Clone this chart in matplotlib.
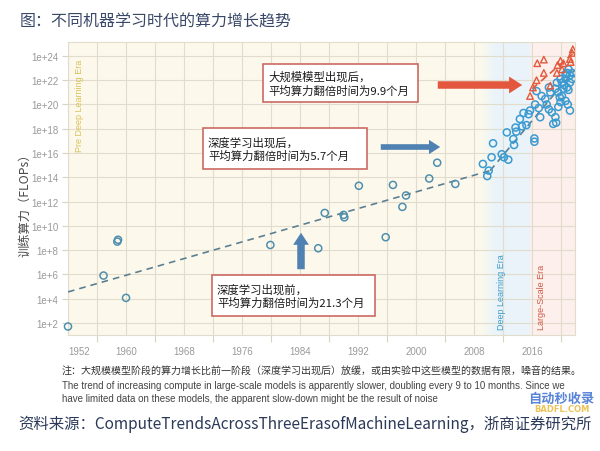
import numpy as np
import matplotlib.pyplot as plt
from matplotlib.patches import Rectangle, FancyArrowPatch

plt.rcParams['font.family'] = ['Noto Sans CJK SC', 'DejaVu Sans']

# ---- data (year, log10 FLOPs) ----
pre_dl_year = [1952.0, 1956.9, 1958.8, 1958.9, 1960.0, 1979.9, 1986.5, 1987.4,
               1990.0, 1990.1, 1992.1, 1995.8, 1996.8, 1998.6, 1998.1, 2001.8,
               2002.9, 2005.4]
pre_dl_log = [1.7, 5.9, 8.7, 8.85, 4.06, 8.42, 8.15, 11.06,
              10.9, 10.7, 13.3, 9.06, 13.37, 12.5, 11.56, 13.9,
              15.2, 13.45]

dl_year = [2009.2, 2010.0, 2009.8, 2010.4, 2010.6, 2011.8, 2012.1, 2012.7,
           2012.5, 2013.4, 2013.5, 2013.7, 2013.8, 2014.3, 2014.6, 2014.8,
           2015.2, 2015.5, 2015.7, 2016.3, 2016.3, 2016.4, 2016.9, 2017.1,
           2016.6, 2017.3, 2017.8, 2018.0, 2018.3, 2018.7, 2019.2, 2019.3,
           2018.9, 2019.6, 2019.9, 2020.1, 2019.6, 2020.3, 2020.1, 2020.6,
           2020.8, 2021.0, 2021.2, 2021.2, 2021.5, 2020.8, 2020.6, 2020.9,
           2021.2, 2019.4, 2019.9, 2019.2, 2018.5, 2020.6, 2021.5, 2018.3,
           2020.4, 2021.0, 2019.8]
dl_log = [15.1, 14.55, 14.1, 15.65, 16.8, 15.9, 15.65, 15.45,
          17.7, 17.15, 16.66, 18.1, 17.76, 18.8, 18.2, 19.3,
          18.3, 19.2, 19.5, 17.2, 16.93, 20.0, 19.7, 18.95,
          21.1, 20.7, 20.45, 20.0, 19.6, 19.35, 18.95, 18.5,
          18.4, 19.8, 20.2, 20.7, 21.0, 21.3, 21.8, 22.1,
          22.6, 22.9, 22.4, 21.8, 22.1, 21.4, 20.3, 20.0,
          19.5, 21.8, 22.1, 21.3, 21.0, 22.5, 22.6, 21.4,
          21.6, 21.2, 20.6]

large_year = [2015.7, 2016.1, 2016.6, 2016.7, 2017.6, 2017.6, 2018.5, 2019.5,
              2019.9, 2020.3, 2021.2, 2021.5, 2021.3, 2019.4, 2020.1, 2021.6]
large_log = [20.7, 21.4, 22.0, 23.4, 23.7, 22.6, 21.55, 23.25,
             23.6, 23.4, 23.75, 24.25, 23.5, 22.6, 22.9, 24.55]

pre_trend_year, pre_trend_log = [1952.0, 2010.2], [4.55, 14.55]
dl_trend_year, dl_trend_log = [2010.2, 2021.8], [14.55, 22.8]
large_trend_year, large_trend_log = [2016.0, 2021.8], [21.3, 24.3]

x_ticks = [1952, 1960, 1968, 1976, 1984, 1992, 2000, 2008, 2016]
y_ticks_log = [2, 4, 6, 8, 10, 12, 14, 16, 18, 20, 22, 24]
y_tick_labels = ['1e+%d' % e for e in y_ticks_log]

title = '图：不同机器学习时代的算力增长趋势'
ylabel = '训练算力（FLOPs）'
note_cn = '注：大规模模型阶段的算力增长比前一阶段（深度学习出现后）放缓，或由实验中这些模型的数据有限，噪音的结果。'
note_en1 = ('The trend of increasing compute in large-scale models is apparently slower, '
            'doubling every 9 to 10 months. Since we')
note_en2 = 'have limited data on these models, the apparent slow-down might be the result of noise'
source = '资料来源：ComputeTrendsAcrossThreeErasofMachineLearning，浙商证券研究所'
box_texts = ['大规模模型出现后，\n平均算力翻倍时间为9.9个月',
             '深度学习出现后，\n平均算力翻倍时间为5.7个月',
             '深度学习出现前，\n平均算力翻倍时间为21.3个月']


def p10(v):
    return np.power(10.0, np.asarray(v, dtype=float))


W, H = 600, 452
fig = plt.figure(figsize=(6, 4.52), dpi=100)
ax = fig.add_axes([68 / W, 1 - 336 / H, 507 / W, 293 / H])
ax.set_yscale('log')
ax.set_xlim(1952, 2021.9)
ax.set_ylim(10 ** 1.0, 10 ** 25.15)


def hexrgb(h):
    return np.array([int(h[i:i + 2], 16) / 255 for i in (1, 3, 5)])


# background eras with soft transitions
cream, blue, pink = hexrgb('#fcf9ec'), hexrgb('#e9f3f9'), hexrgb('#fcefec')
ax.axvspan(1952, 2008.8, color=cream, lw=0, zorder=0)
edges = np.linspace(2008.8, 2011.0, 30)
for a, b in zip(edges[:-1], edges[1:]):
    t = (a - 2008.8) / 2.2
    ax.axvspan(a, b, color=cream * (1 - t) + blue * t, lw=0, zorder=0)
ax.axvspan(2011.0, 2015.4, color=blue, lw=0, zorder=0)
edges = np.linspace(2015.4, 2016.0, 10)
for a, b in zip(edges[:-1], edges[1:]):
    t = (a - 2015.4) / 0.6
    ax.axvspan(a, b, color=blue * (1 - t) + pink * t, lw=0, zorder=0)
ax.axvspan(2016.0, 2022, color=pink, lw=0, zorder=0)

# grid
for yr in range(1952, 2022, 4):
    ax.axvline(yr, color='#e2dccd', lw=0.8, zorder=1)
for e in y_ticks_log:
    ax.axhline(10.0 ** e, color='#e2dccd', lw=0.8, zorder=1)

ax.set_xticks(x_ticks)
ax.set_xticklabels([str(v) for v in x_ticks], family='Liberation Sans',
                   fontsize=7, color='#9a9a9a')
ax.get_xticklabels()[0].set_horizontalalignment('left')
ax.set_xticks(list(range(1956, 2022, 8)), minor=True)
ax.tick_params(axis='x', which='major', length=0, pad=8)
ax.tick_params(axis='x', which='minor', length=5, color='#d8d2c4', width=0.8)
ax.set_yticks(p10(y_ticks_log))
ax.set_yticklabels(y_tick_labels, family='Liberation Sans', fontsize=7, color='#9a9a9a')
ax.yaxis.set_minor_locator(plt.NullLocator())
ax.tick_params(axis='y', length=4, color='#d8d2c4', width=0.8, pad=3)
for s in ax.spines.values():
    s.set_color('#e2dccd')
    s.set_linewidth(0.8)

# trend lines
ax.plot(pre_trend_year, p10(pre_trend_log), ls=(0, (4, 3)),
        color='#5d7f92', lw=1.2, zorder=3)
ax.plot(dl_trend_year, p10(dl_trend_log), ls=(0, (4, 3)),
        color='#5d7f92', lw=1.2, zorder=3)
ax.plot(large_trend_year, p10(large_trend_log), ls=(0, (4, 3)),
        color='#e0583a', lw=1.2, zorder=3)

# points
ax.scatter(pre_dl_year, p10(pre_dl_log), s=26, facecolors='none',
           edgecolors='#4f8fae', linewidths=1.1, zorder=4, clip_on=False)
ax.scatter(dl_year, p10(dl_log), s=26, facecolors='none',
           edgecolors='#3a9bd2', linewidths=1.1, zorder=4)
ax.scatter(large_year, p10(large_log), s=22, marker='^', facecolors='none',
           edgecolors='#e4583b', linewidths=1.0, zorder=5)

# era labels
ax.text((80 - 68) / 507, (336 - 60) / 293, 'Pre Deep Learning Era',
        transform=ax.transAxes, rotation=90, ha='center', va='top',
        family='Liberation Sans', fontsize=6.5, color='#d9c15a')
ax.text((502 - 68) / 507, (336 - 330) / 293, 'Deep Learning Era',
        transform=ax.transAxes, rotation=90, ha='center', va='bottom',
        family='Liberation Sans', fontsize=6.5, color='#3d9ccc')
ax.text((541 - 68) / 507, (336 - 330) / 293, 'Large-Scale Era',
        transform=ax.transAxes, rotation=90, ha='center', va='bottom',
        family='Liberation Sans', fontsize=6.5, color='#cf5a45')

# annotation boxes (pixel rectangles, top-left origin)
boxes = [(263, 65, 418, 103), (203, 129, 367, 170), (212, 276, 375, 317)]
for (x0, y0, x1, y1), txt in zip(boxes, box_texts):
    fig.patches.append(Rectangle((x0 / W, 1 - y1 / H), (x1 - x0) / W, (y1 - y0) / H,
                                 transform=fig.transFigure, facecolor='white',
                                 edgecolor='#cc6a62', lw=1.2, zorder=6))
    fig.text((x0 + 5) / W, 1 - (y0 + y1) / 2 / H, txt, ha='left', va='center',
             fontsize=8.2, color='#1a1a1a', linespacing=1.25, zorder=7)

# arrows (figure pixels, bottom-left origin)
arrows = [((435, 86), (525, 86), '#e4573f', 0.2, 0.45, 0.35),
          ((378, 148), (443, 148), '#4f81b3', 0.15, 0.38, 0.3),
          ((301, 273), (301, 231), '#4f81b3', 0.2, 0.42, 0.32)]
for (sx, sy), (ex, ey), col, tw, hw, hl in arrows:
    fig.add_artist(FancyArrowPatch(
        (sx, H - sy), (ex, H - ey), transform=None,
        arrowstyle='simple,head_width=%g,head_length=%g,tail_width=%g' % (hw, hl, tw),
        mutation_scale=27, color=col, lw=0, zorder=8))

# texts
fig.text(20 / W, 1 - 22 / H, title, fontsize=11.5, color='#3a4868', va='center')
fig.text(25 / W, 1 - 202 / H, ylabel, rotation=90, fontsize=8.8, color='#4a4a4a',
         ha='center', va='center')
fig.text(62 / W, 1 - 372 / H, note_cn, fontsize=7.2, color='#333333', va='center')
fig.text(62 / W, 1 - 386 / H, note_en1, family='Liberation Sans', fontsize=7.05,
         color='#444444', va='center')
fig.text(62 / W, 1 - 399 / H, note_en2, family='Liberation Sans', fontsize=7.05,
         color='#444444', va='center')
fig.text(18 / W, 1 - 424 / H, source, fontsize=11.1, color='#2b3a58', va='center')
fig.text(528 / W, 1 - 399 / H, '自动秒收录', fontsize=9.5, weight='bold',
         color='#3d6fd0', va='center', alpha=0.85)
fig.text(534 / W, 1 - 410 / H, 'BADFL.COM', fontsize=6, weight='bold',
         color='#e8b93a', va='center', alpha=0.85, family='DejaVu Sans')

fig.savefig('out.png', dpi=100)
